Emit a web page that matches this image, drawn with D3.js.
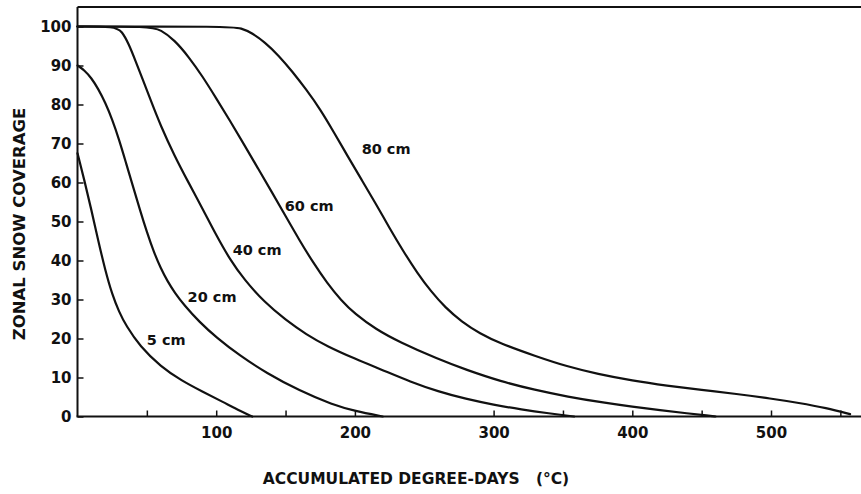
<!DOCTYPE html>
<html>
<head>
<meta charset="utf-8">
<script src="https://cdn.jsdelivr.net/npm/d3@7"></script>
<style>
  html, body { margin: 0; padding: 0; background: #fff; }
  svg { display: block; }
  text { font-family: "DejaVu Sans", "Liberation Sans", sans-serif; font-weight: bold; fill: #111; }
</style>
</head>
<body>
<svg id="chart" width="861" height="494"></svg>
<script>
// ---- data (accumulated degree-days, % zonal snow coverage) ----
const seriesNames = ["5 cm", "20 cm", "40 cm", "60 cm", "80 cm"];

const snow5 = [[0,67.5],[5,60.5],[10,53],[15,45],[20,37.5],[25,31.3],[30,26.8],[35,23.3],[45,18],[60,12.8],[75,9.2],[90,6.4],[105,3.7],[118,1.3],[126,0]];
const snow20 = [[0,90],[5,88.8],[10,86.8],[15,84],[20,80.5],[25,76.2],[30,71],[35,65],[40,59],[45,53],[50,47.3],[55,42.2],[60,38],[65,34.6],[70,31.8],[77,28.5],[88,24.2],[100,20.3],[117,15.6],[136,11.2],[160,6.6],[184,3.0],[200,1.4],[220,0]];
const snow40 = [[0,100],[27,100],[32,98.8],[37,95.5],[42,91],[47,86.5],[52,81.8],[60,74.5],[70,66.8],[80,60],[90,53.4],[100,46.5],[110,40.2],[120,35.2],[135,29.2],[150,24.8],[165,21],[180,18],[200,14.8],[220,11.9],[240,8.9],[260,6.4],[280,4.5],[300,3.0],[320,1.8],[340,0.8],[358,0]];
const snow60 = [[0,100],[52,100],[60,99.2],[70,96.5],[80,92.3],[90,87.3],[100,81.6],[110,75.8],[120,69.8],[130,63.7],[140,57.6],[150,51.4],[160,45.2],[170,39.4],[180,34.2],[190,29.8],[200,26.3],[215,22.4],[232,19.1],[260,14.7],[280,12],[305,9],[330,6.8],[353,5.1],[380,3.5],[400,2.5],[420,1.6],[440,0.8],[455,0.2],[460,0]];
const snow80 = [[0,100],[110,100],[118,99.6],[126,98.3],[135,96],[145,92.6],[155,88.4],[165,83.8],[175,78.8],[185,72.8],[195,66.6],[205,60.6],[215,54.6],[225,48.3],[235,42.3],[245,36.8],[255,32],[265,28],[277,24.3],[290,21.3],[305,18.7],[330,15.5],[353,12.8],[375,10.9],[400,9.2],[425,7.9],[450,6.8],[475,5.8],[500,4.6],[520,3.5],[540,2.2],[557,0.6]];

// label anchor points in data units
const labelX = [64, 97, 129.5, 167, 222.5];
const labelY = [19.6, 30.6, 42.7, 54, 68.6];

const yTicks = [0,10,20,30,40,50,60,70,80,90,100];
const xTicks = [50,100,150,200,300,350,400,450,500,550];
const xLabels = [100,200,300,400,500];

const xTitle = "ACCUMULATED DEGREE-DAYS   (°C)";
const yTitle = "ZONAL SNOW COVERAGE";

// ---- drawing ----
const svg = d3.select("#chart");
const x = d3.scaleLinear().domain([0, 562]).range([77.5, 857]);
const y = d3.scaleLinear().domain([0, 105]).range([416.5, 7]);
const W = 861;

// frame: top line
svg.append("line").attr("x1", x(0)).attr("x2", W).attr("y1", y(105)).attr("y2", y(105))
  .attr("stroke", "#111").attr("stroke-width", 2);

// y axis (inward ticks)
const yAxis = d3.axisLeft(y).tickValues(yTicks).tickSizeInner(-6).tickSizeOuter(0).tickPadding(6)
  .tickFormat(d3.format("d"));
const gy = svg.append("g").attr("transform", `translate(${x(0)},0)`).call(yAxis);
gy.select(".domain").remove();
gy.selectAll(".tick line").attr("stroke", "#111").attr("stroke-width", 1.5);
gy.selectAll(".tick text").style("font-size", "15px").style("font-family", "DejaVu Sans").style("font-weight", "bold").attr("fill", "#111");
svg.append("line").attr("x1", x(0)).attr("x2", x(0)).attr("y1", y(105)).attr("y2", y(0))
  .attr("stroke", "#111").attr("stroke-width", 2);

// x axis (inward ticks)
const xAxis = d3.axisBottom(x).tickValues(xTicks).tickSizeInner(-6).tickSizeOuter(0).tickPadding(11)
  .tickFormat(d => xLabels.includes(d) ? String(d) : "");
const gx = svg.append("g").attr("transform", `translate(0,${y(0)})`).call(xAxis);
gx.select(".domain").remove();
gx.selectAll(".tick line").attr("stroke", "#111").attr("stroke-width", 1.5);
gx.selectAll(".tick text").style("font-size", "15px").style("font-family", "DejaVu Sans").style("font-weight", "bold").attr("fill", "#111");
svg.append("line").attr("x1", x(0) - 1).attr("x2", W).attr("y1", y(0)).attr("y2", y(0))
  .attr("stroke", "#111").attr("stroke-width", 2);

// curves
const allSeries = [snow5, snow20, snow40, snow60, snow80];
const line = d3.line().x(d => x(d[0])).y(d => y(d[1])).curve(d3.curveBasis);
svg.append("g").selectAll("path").data(allSeries).join("path")
  .attr("d", line).attr("fill", "none").attr("stroke", "#111")
  .attr("stroke-width", 2.2).attr("stroke-linejoin", "round").attr("stroke-linecap", "round");

// curve labels
svg.append("g").selectAll("text").data(seriesNames).join("text")
  .attr("x", (d, i) => x(labelX[i])).attr("y", (d, i) => y(labelY[i]))
  .attr("text-anchor", "middle").attr("dominant-baseline", "central")
  .style("font-size", "14.5px").text(d => d);

// axis titles
svg.append("text").attr("x", 416).attr("y", 484).attr("text-anchor", "middle")
  .style("font-size", "15.5px").style("white-space", "pre").text(xTitle);
svg.append("text").attr("transform", "translate(25,224) rotate(-90)").attr("text-anchor", "middle")
  .style("font-size", "16.5px").text(yTitle);
</script>
</body>
</html>
